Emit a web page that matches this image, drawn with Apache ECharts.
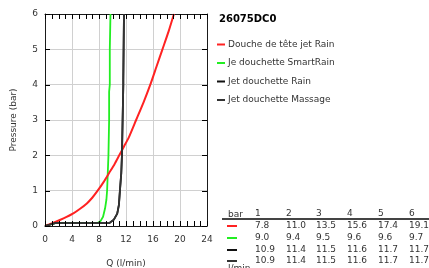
<!DOCTYPE html>
<html>
<head>
<meta charset="utf-8">
<script src="https://cdn.jsdelivr.net/npm/echarts@6/dist/echarts.min.js"></script>
<style>
  html, body { margin: 0; padding: 0; background: #fff; }
  #chart { width: 429px; height: 268px; }
</style>
</head>
<body>
<div id="chart"></div>
<script>
// courbes débit / pression
const redQ = [0, 1, 2.2, 3.2, 4.2, 5.2, 6.2, 7, 7.8, 8.7, 9.5, 10.3, 11.0, 11.7, 12.4, 13.5, 14.6, 15.6, 16.5, 17.4, 18.3, 19.1];
const redP = [0, 0.07, 0.17, 0.26, 0.36, 0.49, 0.64, 0.8, 1, 1.25, 1.5, 1.75, 2, 2.25, 2.5, 3, 3.5, 4, 4.5, 5, 5.5, 6];
const greenQ = [0, 1.5, 7.7, 8.2, 8.6, 8.9, 9.1, 9.2, 9.4, 9.5, 9.5, 9.6, 9.6, 9.7];
const greenP = [0, 0.08, 0.08, 0.13, 0.26, 0.5, 0.75, 1, 2, 3, 3.8, 4, 5, 6];
const rainQ = [0, 1.5, 9.5, 10.2, 10.7, 10.95, 11.1, 11.3, 11.4, 11.5, 11.6, 11.6, 11.7, 11.7];
const rainP = [0, 0.08, 0.08, 0.18, 0.35, 0.6, 1, 1.5, 2, 3, 4, 4.15, 4.2, 6];
const massageQ = [0, 1.5, 9.5, 10.2, 10.7, 10.95, 11.1, 11.3, 11.4, 11.5, 11.6, 11.6, 11.7, 11.7];
const massageP = [0, 0.08, 0.08, 0.18, 0.35, 0.6, 1, 1.5, 2, 3, 4, 4.15, 4.2, 6];

const seriesNames = ["Douche de tête jet Rain", "Je douchette SmartRain", "Jet douchette Rain", "Jet douchette Massage"];
const seriesColors = ["#ff2222", "#22ee22", "#111111", "#333333"];

// graduations
const xTickValues = [0, 1, 2, 3, 4, 5, 6, 7, 8, 9, 10, 11, 12, 13, 14, 15, 16, 17, 18, 19, 20, 21, 22, 23, 24];
const yTickValues = [0, 1, 2, 3, 4, 5, 6];

// tableau en bas à droite
const tableBars = [1, 2, 3, 4, 5, 6];
const tableRed = ["7.8", "11.0", "13.5", "15.6", "17.4", "19.1"];
const tableGreen = ["9.0", "9.4", "9.5", "9.6", "9.6", "9.7"];
const tableRain = ["10.9", "11.4", "11.5", "11.6", "11.7", "11.7"];
const tableMassage = ["10.9", "11.4", "11.5", "11.6", "11.7", "11.7"];

const zip = (q, p) => q.map((v, i) => [v, p[i]]);
const curves = [zip(redQ, redP), zip(greenQ, greenP), zip(rainQ, rainP), zip(massageQ, massageP)];
const tableRows = [tableRed, tableGreen, tableRain, tableMassage];

const font = "DejaVu Sans";
const textColor = "#333";
const lineCol = "#1a1a1a";
const tickLen = 5;

// construction du tableau avec des éléments graphiques
const colX = [255, 286, 316, 347, 378, 409];
const rowY = [226, 238, 250, 261];
const graphics = [
  { type: "text", left: 228, top: 210, style: { text: "bar", font: "9px " + font, fill: textColor } },
  { type: "rect", shape: { x: 222, y: 218, width: 207, height: 2 }, style: { fill: "#444" } },
  { type: "text", left: 228, top: 264, style: { text: "l/min", font: "9px " + font, fill: textColor } }
];
tableBars.forEach((b, i) => {
  graphics.push({ type: "text", x: colX[i], y: 214, style: { text: String(b), font: "9px " + font, fill: textColor, verticalAlign: "middle" } });
});
tableRows.forEach((row, r) => {
  graphics.push({ type: "rect", shape: { x: 227, y: rowY[r] - 1, width: 10, height: 2 }, style: { fill: seriesColors[r] } });
  row.forEach((v, i) => {
    graphics.push({ type: "text", x: colX[i], y: rowY[r], style: { text: v, font: "9px " + font, fill: textColor, verticalAlign: "middle" } });
  });
});

const chart = echarts.init(document.getElementById("chart"), null, { renderer: "canvas" });

const xBase = {
  type: "value",
  min: 0,
  max: 24,
  interval: 4,
  axisLine: { show: true, onZero: false, lineStyle: { color: lineCol, width: 1 } },
  axisTick: { show: false },
  splitLine: { show: false }
};
const yBase = {
  type: "value",
  min: 0,
  max: 6,
  interval: 1,
  axisLine: { show: true, onZero: false, lineStyle: { color: lineCol, width: 1 } },
  axisTick: { show: false },
  splitLine: { show: false }
};

// graduations intérieures dessinées par une série custom (api.coord = échelle des axes)
const tickSeries = (values, vertical) => ({
  type: "custom",
  silent: true,
  clip: false,
  z: 10,
  data: values.map(v => [v]),
  encode: vertical ? { x: 0 } : { y: 0 },
  renderItem: (params, api) => {
    const v = api.value(0);
    if (vertical) {
      const b = api.coord([v, 0]);
      const t = api.coord([v, 6]);
      const x = Math.round(b[0]) + 0.5;
      return {
        type: "group",
        children: [
          { type: "line", shape: { x1: x, y1: b[1], x2: x, y2: b[1] - tickLen }, style: { stroke: "#000", lineWidth: 1 } },
          { type: "line", shape: { x1: x, y1: t[1], x2: x, y2: t[1] + tickLen }, style: { stroke: "#000", lineWidth: 1 } }
        ]
      };
    }
    const l = api.coord([0, v]);
    const r = api.coord([24, v]);
    const y = Math.round(l[1]) + 0.5;
    return {
      type: "group",
      children: [
        { type: "line", shape: { x1: l[0], y1: y, x2: l[0] + tickLen, y2: y }, style: { stroke: "#000", lineWidth: 1 } },
        { type: "line", shape: { x1: r[0], y1: y, x2: r[0] - tickLen, y2: y }, style: { stroke: "#000", lineWidth: 1 } }
      ]
    };
  }
});

chart.setOption({
  animation: false,
  textStyle: { fontFamily: font },
  title: {
    text: "26075DC0",
    left: 214,
    top: 9,
    textStyle: { fontFamily: font, fontSize: 10, fontWeight: "bold", color: "#000" }
  },
  legend: {
    orient: "vertical",
    left: 212,
    top: 34,
    itemWidth: 8,
    itemHeight: 2,
    itemGap: 7.5,
    icon: "rect",
    data: seriesNames,
    textStyle: { fontFamily: font, fontSize: 9, color: textColor, padding: [0, 0, 0, -2], lineHeight: 11 }
  },
  grid: { left: 45, right: 222, top: 14, bottom: 42, containLabel: false, outerBoundsMode: "none" },
  xAxis: [
    Object.assign({}, xBase, {
      position: "bottom",
      name: "Q (l/min)",
      nameLocation: "middle",
      nameGap: 33,
      nameTextStyle: { fontFamily: font, fontSize: 9, color: textColor },
      axisLabel: { fontFamily: font, fontSize: 9, color: textColor, margin: 9 },
      splitLine: { show: true, lineStyle: { color: "#d0d0d0", width: 1 } }
    }),
    Object.assign({}, xBase, { position: "top", axisLabel: { show: false } })
  ],
  yAxis: [
    Object.assign({}, yBase, {
      position: "left",
      name: "Pressure (bar)",
      nameLocation: "middle",
      nameGap: 27,
      nameTextStyle: { fontFamily: font, fontSize: 9, color: textColor },
      axisLabel: { fontFamily: font, fontSize: 9, color: textColor, margin: 7 },
      splitLine: { show: true, lineStyle: { color: "#d0d0d0", width: 1 } }
    }),
    Object.assign({}, yBase, { position: "right", axisLabel: { show: false } })
  ],
  series: seriesNames.map((name, i) => ({
    name: name,
    type: "line",
    xAxisIndex: 0,
    yAxisIndex: 0,
    data: curves[i],
    showSymbol: false,
    smooth: i === 0 ? 0.2 : false,
    z: i === 1 ? 2 : i === 0 ? 3 : 4,
    color: seriesColors[i],
    lineStyle: { color: seriesColors[i], width: i === 0 ? 2 : 1.8 }
  })).concat([tickSeries(xTickValues, true), tickSeries(yTickValues, false)]),
  graphic: graphics
});
</script>
</body>
</html>
